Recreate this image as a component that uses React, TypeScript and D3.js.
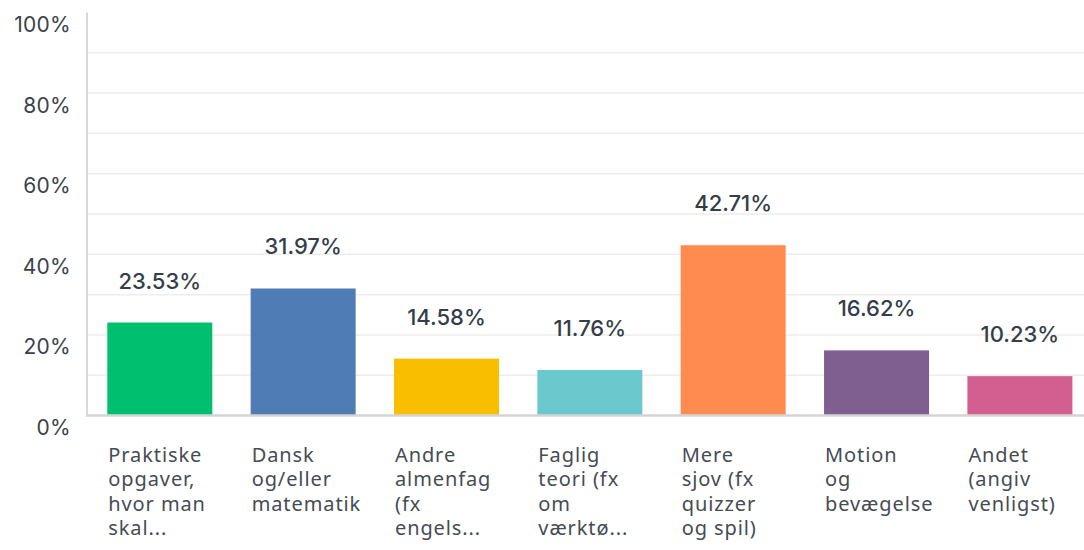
import React, { useEffect, useRef } from "react";
import * as d3 from "d3";

const categories = [
  ["Praktiske", "opgaver,", "hvor man", "skal..."],
  ["Dansk", "og/eller", "matematik"],
  ["Andre", "almenfag", "(fx", "engels..."],
  ["Faglig", "teori (fx", "om", "værktø..."],
  ["Mere", "sjov (fx", "quizzer", "og spil)"],
  ["Motion", "og", "bevægelse"],
  ["Andet", "(angiv", "venligst)"],
];
const values = [23.53, 31.97, 14.58, 11.76, 42.71, 16.62, 10.23];
const colors = ["#00bf6f", "#507cb6", "#f9be00", "#6bc8cd", "#ff8b4f", "#7f5f90", "#d25f90"];
const yTicks = [0, 20, 40, 60, 80, 100];
const gridTicks = [10, 20, 30, 40, 50, 60, 70, 80, 90];

const App = () => {
  const svgRef = useRef(null);

  useEffect(() => {
    const svg = d3.select(svgRef.current);
    svg.selectAll("*").remove();

    const x = d3
      .scaleBand()
      .domain(d3.range(values.length).map(String))
      .range([87, 1092.7])
      .paddingInner(0.2675)
      .paddingOuter(0.1416);
    const y = d3.scaleLinear().domain([0, 100]).range([415.6, 12.4]);
    const barShift = 1.8; // bars sit a hair lower than the grid in the original

    // gridlines
    svg
      .append("g")
      .selectAll("line")
      .data(gridTicks)
      .join("line")
      .attr("x1", 88)
      .attr("x2", 1084)
      .attr("y1", (d) => y(d))
      .attr("y2", (d) => y(d))
      .attr("stroke", "#ededed")
      .attr("stroke-width", 1.5);

    // y axis line
    svg
      .append("line")
      .attr("x1", 87)
      .attr("x2", 87)
      .attr("y1", y(100))
      .attr("y2", y(0))
      .attr("stroke", "#d9d9d9")
      .attr("stroke-width", 2);

    // tick labels (sit a bit under their gridline)
    svg
      .append("g")
      .selectAll("text")
      .data(yTicks)
      .join("text")
      .attr("x", 71)
      .attr("y", (d) => y(d) + 19.5)
      .attr("text-anchor", "end")
      .attr("font-family", "Inter, 'Noto Sans', sans-serif")
      .attr("font-size", 21)
      .attr("letter-spacing", 0.3)
      .attr("fill", "#3a434b")
      .text((d) => d + "%");

    // bars
    svg
      .append("g")
      .selectAll("rect")
      .data(values)
      .join("rect")
      .attr("x", (d, i) => x(String(i)))
      .attr("y", (d) => y(d) + barShift)
      .attr("width", x.bandwidth())
      .attr("height", (d) => y(0) - y(d) - barShift)
      .attr("fill", (d, i) => colors[i]);

    // baseline
    svg
      .append("line")
      .attr("x1", 86)
      .attr("x2", 1084)
      .attr("y1", y(0))
      .attr("y2", y(0))
      .attr("stroke", "#d4d4d4")
      .attr("stroke-width", 2.5);

    // value labels
    svg
      .append("g")
      .selectAll("text")
      .data(values)
      .join("text")
      .attr("x", (d, i) => x(String(i)) + x.bandwidth() / 2)
      .attr("y", (d) => y(d) + barShift - 34)
      .attr("text-anchor", "middle")
      .attr("font-family", "Inter, 'Noto Sans', sans-serif")
      .attr("font-size", 22)
      .attr("font-weight", 500)
      .attr("fill", "#333e48")
      .text((d) => d.toFixed(2) + "%");

    // category labels
    const cat = svg
      .append("g")
      .selectAll("text")
      .data(categories)
      .join("text")
      .attr("x", (d, i) => x(String(i)) + 1)
      .attr("y", 462)
      .attr("font-family", "'Noto Sans', sans-serif")
      .attr("font-size", 20)
      .attr("letter-spacing", 0.9)
      .attr("fill", "#454c53");
    cat
      .selectAll("tspan")
      .data((d) => d)
      .join("tspan")
      .attr("x", function () {
        return (this.parentNode as SVGTextElement).getAttribute("x");
      })
      .attr("dy", (d, j) => (j === 0 ? 0 : 24.3))
      .text((d) => d);
  }, []);

  return (
    <svg
      ref={svgRef}
      width={1084}
      height={550}
      style={{ position: "absolute", left: 0, top: 0, backgroundColor: "#fff" }}
    ></svg>
  );
};

export default App;
